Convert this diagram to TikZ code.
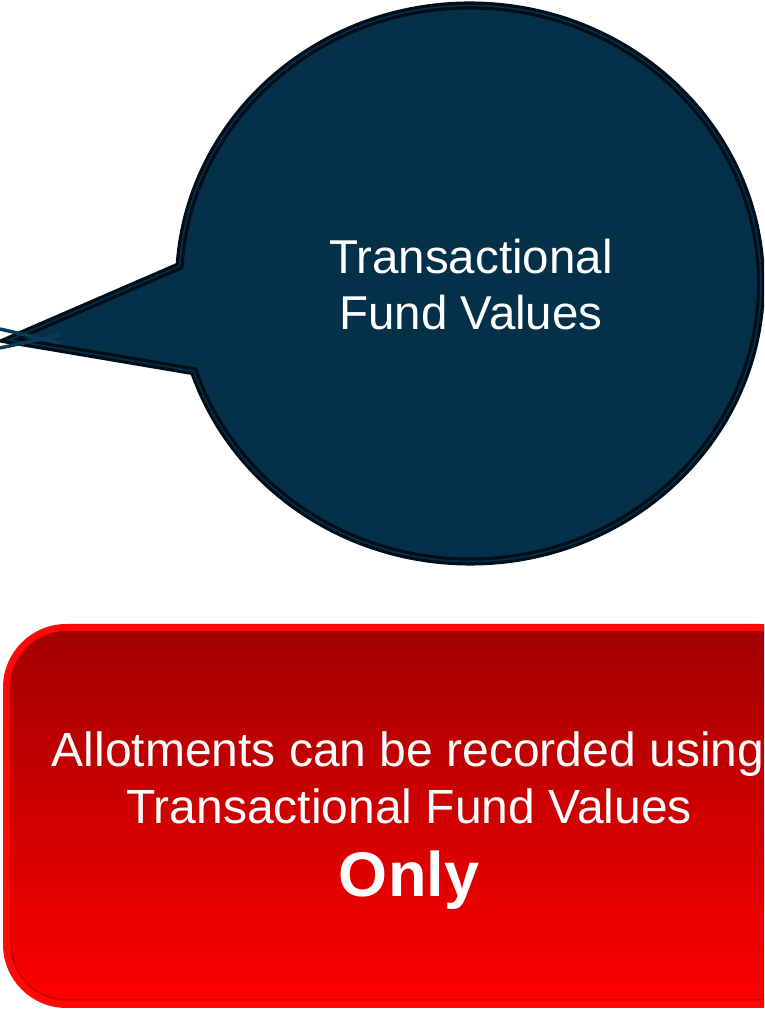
\documentclass[tikz,border=0pt]{standalone}
\usepackage{fontspec}
\setmainfont{Liberation Sans}
\usetikzlibrary{calc}
\definecolor{calloutfill}{RGB}{5,48,74}
\definecolor{calloutedge}{RGB}{1,14,26}
\definecolor{tipline}{RGB}{10,58,88}
\definecolor{boxtop}{RGB}{160,0,0}
\definecolor{boxmid}{RGB}{236,0,0}
\definecolor{boxbottom}{RGB}{255,0,0}
\definecolor{boxedge}{RGB}{255,8,8}
\definecolor{boxinner}{RGB}{185,0,0}
\tikzset{
  callout/.style={fill=calloutfill, draw=calloutedge, double=calloutfill, double distance=1.5pt, line width=3.3pt, line join=miter},
  tipconn/.style={draw=tipline, line width=3.5pt},
  redbox/.style={top color=boxtop, middle color=boxmid, bottom color=boxbottom, draw=boxedge, line width=7pt},
  redinner/.style={draw=boxinner, line width=1.4pt, opacity=0.75},
  whitetext/.style={text=white, inner sep=0pt, anchor=base},
}
\begin{document}
\begin{tikzpicture}[x=1pt,y=1pt]
\useasboundingbox (0,0) rectangle (764,1010);
\begin{scope}
\clip (0,0) rectangle (764,1010);
% callout
\coordinate (cc) at (470,726.5);
\coordinate (tip) at (9,670);
\draw[callout] (tip) -- ($(cc)+(176.4:291pt and 278pt)$)
  arc[start angle=176.4, end angle=-161.6, x radius=291pt, y radius=278pt] -- cycle;
% connectors ending at the tip
\coordinate (c1) at (0,681);
\coordinate (c2) at (0,662);
\coordinate (e1) at (60,667);
\coordinate (e2) at (60,675);
\draw[tipconn] (c1) -- (e1);
\draw[tipconn] (c2) -- (e2);
\node[whitetext, font=\fontsize{47.5}{56}\selectfont] (t1) at (471,736) {Transactional};
\node[whitetext, font=\fontsize{47.5}{56}\selectfont] (t2) at (471,680) {Fund Values};
% red box
\draw[redbox, rounded corners=60pt] (6.5,5.5) rectangle (820,382.5);
\draw[redinner, rounded corners=54pt] (11.5,10.5) rectangle (815,377.5);
\node[whitetext, font=\fontsize{48}{56}\selectfont] (r1) at (408,243) {Allotments can be recorded using};
\node[whitetext, font=\fontsize{48}{56}\selectfont] (r2) at (409,186) {Transactional Fund Values};
\node[whitetext, font=\fontsize{63}{70}\bfseries] (r3) at (409,113) {Only};
\end{scope}
\end{tikzpicture}
\end{document}
